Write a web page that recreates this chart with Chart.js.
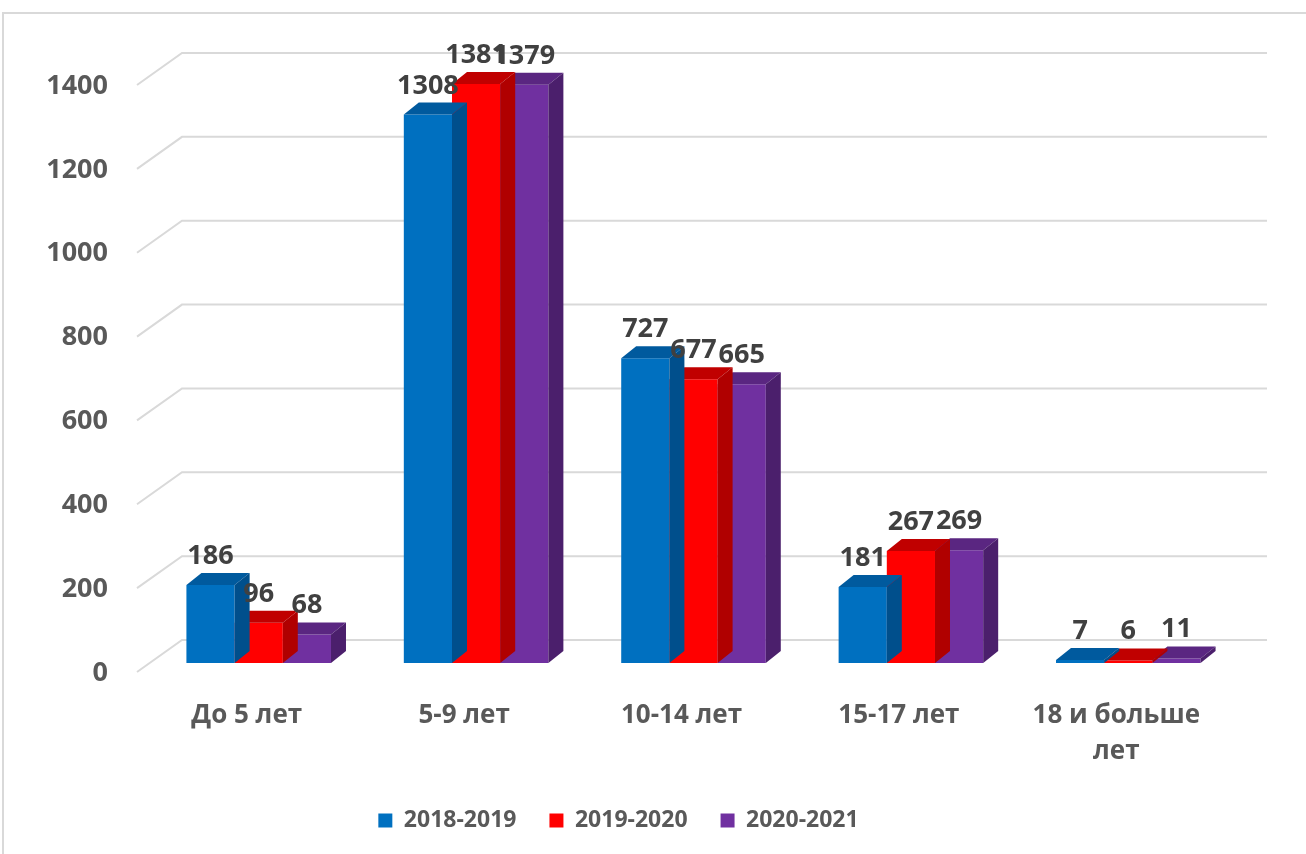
<!DOCTYPE html>
<html>
<head>
<meta charset="utf-8">
<script src="https://cdn.jsdelivr.net/npm/chart.js@4.4.0/dist/chart.umd.min.js"></script>
<style>
  html, body { margin: 0; padding: 0; overflow: hidden; background: #fff; }
  #wrap { position: relative; width: 1306px; height: 854px; }
</style>
</head>
<body>
<div id="wrap"><canvas id="chart"></canvas></div>
<script>
const categories = ["До 5 лет", "5-9 лет", "10-14 лет", "15-17 лет", ["18 и больше", "лет"]];
const seriesNames = ["2018-2019", "2019-2020", "2020-2021"];
const values2018 = [186, 1308, 727, 181, 7];
const values2019 = [96, 1381, 677, 267, 6];
const values2020 = [68, 1379, 665, 269, 11];
const yTicks = [0, 200, 400, 600, 800, 1000, 1200, 1400];

const frontColors = ["#0070C0", "#FF0000", "#7030A0"];
const topColors = ["#005A9E", "#C00000", "#5A2681"];
const sideColors = ["#004F8C", "#B00000", "#4B1F6C"];

const DX = 15;
const DY = 12;
const textGray = "#595959";

Chart.defaults.font.family = "'Open Sans', sans-serif";

// 3d top/side faces, drawn right after each dataset so the next one covers them
const bars3d = {
  id: "bars3d",
  afterDatasetDraw(chart, args) {
    const ctx = chart.ctx;
    const i = args.index;
    ctx.save();
    args.meta.data.forEach((bar) => {
      const { x, y, base, width } = bar.getProps(["x", "y", "base", "width"], true);
      const L = x - width / 2;
      const R = x + width / 2;
      ctx.fillStyle = topColors[i];
      ctx.beginPath();
      ctx.moveTo(L, y);
      ctx.lineTo(R, y);
      ctx.lineTo(R + DX, y - DY);
      ctx.lineTo(L + DX, y - DY);
      ctx.closePath();
      ctx.fill();
      ctx.fillStyle = sideColors[i];
      ctx.beginPath();
      ctx.moveTo(R, y);
      ctx.lineTo(R + DX, y - DY);
      ctx.lineTo(R + DX, base - DY);
      ctx.lineTo(R, base);
      ctx.closePath();
      ctx.fill();
    });
    ctx.restore();
  },
};

// back wall grid with the slanted side wall part on the left
const wallGrid = {
  id: "wallGrid",
  beforeDraw(chart) {
    const ctx = chart.ctx;
    ctx.save();
    ctx.strokeStyle = "#D9D9D9";
    ctx.lineWidth = 2;
    ctx.strokeRect(3, 13, 1400, 900);
    ctx.restore();
  },
  beforeDatasetsDraw(chart) {
    const ctx = chart.ctx;
    const area = chart.chartArea;
    const yScale = chart.scales.y;
    ctx.save();
    ctx.strokeStyle = "#D9D9D9";
    ctx.lineWidth = 2;
    yTicks.forEach((v) => {
      const yf = yScale.getPixelForValue(v);
      ctx.beginPath();
      ctx.moveTo(area.left - 13, yf + 9);
      ctx.lineTo(area.left + 32, yf - 23);
      ctx.lineTo(area.right + 30, yf - 23);
      ctx.stroke();
    });
    ctx.restore();
  },
};

const valueLabels = {
  id: "valueLabels",
  afterDatasetsDraw(chart) {
    const ctx = chart.ctx;
    ctx.save();
    ctx.fillStyle = "#404040";
    ctx.font = "bold 27px 'Open Sans', sans-serif";
    ctx.textAlign = "center";
    ctx.textBaseline = "alphabetic";
    chart.data.datasets.forEach((ds, i) => {
      chart.getDatasetMeta(i).data.forEach((bar, j) => {
        const { x, y } = bar.getProps(["x", "y"], true);
        ctx.fillText(ds.data[j], x, y - DY - 9);
      });
    });
    ctx.restore();
  },
};

const ctx = document.getElementById("chart").getContext("2d");

const ageChart = new Chart(ctx, {
  type: "bar",
  data: {
    labels: categories,
    datasets: [
      { label: seriesNames[0], data: values2018, backgroundColor: frontColors[0] },
      { label: seriesNames[1], data: values2019, backgroundColor: frontColors[1] },
      { label: seriesNames[2], data: values2020, backgroundColor: frontColors[2] },
    ],
  },
  options: {
    responsive: true,
    maintainAspectRatio: false,
    animation: false,
    barPercentage: 1,
    categoryPercentage: 0.665,
    layout: { padding: { top: 76, right: 69, bottom: 12, left: 0 } },
    scales: {
      x: {
        grid: { display: false, drawTicks: false },
        border: { display: false },
        ticks: {
          color: textGray,
          font: { size: 26, weight: "bold", lineHeight: 1.38 },
          padding: 35,
          labelOffset: -12,
          maxRotation: 0,
          autoSkip: false,
        },
        afterFit(scale) {
          scale.height = 113;
        },
      },
      y: {
        min: 0,
        max: 1400,
        grid: { display: false, drawTicks: false },
        border: { display: false },
        ticks: {
          stepSize: 200,
          color: textGray,
          font: { size: 27, weight: "bold" },
          padding: 42,
          labelOffset: 10,
          callback: (v) => String(v),
        },
        afterFit(scale) {
          scale.width = 150;
        },
      },
    },
    plugins: {
      legend: {
        position: "bottom",
        labels: {
          boxWidth: 14,
          boxHeight: 14,
          padding: 33,
          color: textGray,
          font: { size: 23, weight: "bold" },
        },
      },
      tooltip: { enabled: false },
    },
  },
  plugins: [wallGrid, bars3d, valueLabels],
});
</script>
</body>
</html>
